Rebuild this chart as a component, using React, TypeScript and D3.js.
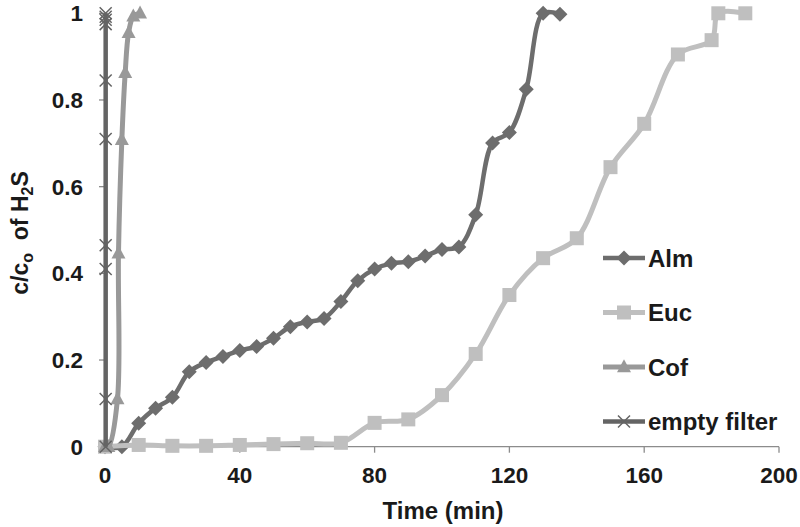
import React from "react";
import * as d3 from "d3";

type Pt = [number, number];

const almData: Pt[] = [
  [0, 0], [5, 0], [10, 0.054], [15, 0.089], [20, 0.114], [25, 0.173], [30, 0.194],
  [35, 0.208], [40, 0.222], [45, 0.231], [50, 0.25], [55, 0.277], [60, 0.288],
  [65, 0.296], [70, 0.335], [75, 0.383], [80, 0.41], [85, 0.423], [90, 0.427],
  [95, 0.44], [100, 0.455], [105, 0.461], [110, 0.535], [115, 0.701], [120, 0.725],
  [125, 0.825], [130, 1.0], [135, 0.998],
];
const eucData: Pt[] = [
  [0, 0], [10, 0.004], [20, 0.002], [30, 0.002], [40, 0.004], [50, 0.006], [60, 0.008],
  [70, 0.009], [80, 0.055], [90, 0.063], [100, 0.119], [110, 0.214], [120, 0.35],
  [130, 0.435], [140, 0.481], [150, 0.645], [160, 0.745], [170, 0.905], [180, 0.938],
  [182, 1.0], [190, 1.0],
];
const cofData: Pt[] = [
  [0, 0], [1, 0], [3.7, 0.11], [4, 0.446], [5, 0.708], [6, 0.863], [7, 0.955],
  [8.4, 0.993], [10.4, 1.0],
];
const emptyData: Pt[] = [
  [0.2, 0], [0.2, 0.11], [0.2, 0.41], [0.2, 0.465], [0.2, 0.71], [0.2, 0.845],
  [0.2, 0.975], [0.2, 0.985], [0.2, 0.992], [0.2, 1.0],
];

const xTicks = [0, 40, 80, 120, 160, 200];
const yTicks = [0, 0.2, 0.4, 0.6, 0.8, 1];
const yTickLabels = ["0", "0.2", "0.4", "0.6", "0.8", "1"];
const seriesNames = ["Alm", "Euc", "Cof", "empty filter"];

const W = 800;
const H = 527;
const FONT = "'Liberation Sans', Arial, sans-serif";

const x = d3.scaleLinear().domain([0, 200]).range([105, 779]);
const y = d3.scaleLinear().domain([0, 1]).range([446.7, 13.3]);

const line = d3
  .line<Pt>()
  .x((d) => x(d[0]))
  .y((d) => y(d[1]))
  .curve(d3.curveCatmullRom.alpha(0.5));

type Kind = "diamond" | "square" | "triangle" | "x";

const series: { name: string; data: Pt[]; color: string; kind: Kind; width: number }[] = [
  { name: seriesNames[0], data: almData, color: "#6d6d6d", kind: "diamond", width: 4.5 },
  { name: seriesNames[1], data: eucData, color: "#bfbfbf", kind: "square", width: 5 },
  { name: seriesNames[2], data: cofData, color: "#999999", kind: "triangle", width: 5 },
  { name: seriesNames[3], data: emptyData, color: "#646464", kind: "x", width: 4.5 },
];

function Marker({ kind, cx, cy, color }: { kind: Kind; cx: number; cy: number; color: string }) {
  if (kind === "diamond") {
    const r = 7.5;
    return (
      <path
        d={`M${cx},${cy - r}L${cx + r},${cy}L${cx},${cy + r}L${cx - r},${cy}Z`}
        fill={color}
      />
    );
  }
  if (kind === "square") {
    const s = 14;
    return <rect x={cx - s / 2} y={cy - s / 2} width={s} height={s} fill={color} />;
  }
  if (kind === "triangle") {
    const w = 14;
    const h = 13;
    return (
      <path
        d={`M${cx},${cy - h * 0.6}L${cx + w / 2},${cy + h * 0.4}L${cx - w / 2},${cy + h * 0.4}Z`}
        fill={color}
      />
    );
  }
  const r = 6;
  return (
    <path
      d={`M${cx - r},${cy - r}L${cx + r},${cy + r}M${cx - r},${cy + r}L${cx + r},${cy - r}`}
      stroke={color}
      strokeWidth={1.5}
      fill="none"
    />
  );
}

const legendY = [258, 312.5, 367, 421.5];

export default function App() {
  return (
    <svg
      width={W}
      height={H}
      style={{ position: "absolute", left: 0, top: 0, background: "#fff" }}
      fontFamily={FONT}
    >
      <rect width={W} height={H} fill="#fff" />
      {/* axes */}
      <line x1={x(0)} x2={x(200)} y1={y(0)} y2={y(0)} stroke="#8c8c8c" strokeWidth={1.3} />
      <line x1={x(0)} x2={x(0)} y1={y(0)} y2={y(1)} stroke="#8c8c8c" strokeWidth={1.3} />
      {xTicks.map((t) => (
        <g key={"xt" + t}>
          <line x1={x(t)} x2={x(t)} y1={y(0)} y2={y(0) + 6} stroke="#8c8c8c" strokeWidth={1.3} />
          <text
            x={x(t)}
            y={483}
            textAnchor="middle"
            fontSize={22.5}
            fontWeight="bold"
            fill="#1a1a1a"
          >
            {t}
          </text>
        </g>
      ))}
      {yTicks.map((t, i) => (
        <g key={"yt" + t}>
          <line x1={x(0) - 6} x2={x(0)} y1={y(t)} y2={y(t)} stroke="#8c8c8c" strokeWidth={1.3} />
          <text
            x={83}
            y={y(t) + 8}
            textAnchor="end"
            fontSize={22.5}
            fontWeight="bold"
            fill="#1a1a1a"
          >
            {yTickLabels[i]}
          </text>
        </g>
      ))}
      <text x={443} y={519} textAnchor="middle" fontSize={24} fontWeight="bold" fill="#1a1a1a">
        Time (min)
      </text>
      <text
        transform="translate(28,233) rotate(-90)"
        textAnchor="middle"
        fontSize={23}
        fontWeight="bold"
        fill="#1a1a1a"
      >
        c/c
        <tspan fontSize={16} dy={5}>o</tspan>
        <tspan dy={-5}>{"\u00a0 of H"}</tspan>
        <tspan fontSize={16} dy={5}>2</tspan>
        <tspan dy={-5}>S</tspan>
      </text>

      {/* series */}
      {series.map((s) => (
        <g key={s.name}>
          <path d={line(s.data) || ""} fill="none" stroke={s.color} strokeWidth={s.width} />
          {s.data.map((d, i) => (
            <Marker key={i} kind={s.kind} cx={x(d[0])} cy={y(d[1])} color={s.color} />
          ))}
        </g>
      ))}

      {/* legend */}
      {series.map((s, i) => (
        <g key={"lg" + s.name}>
          <line
            x1={603}
            x2={645}
            y1={legendY[i]}
            y2={legendY[i]}
            stroke={s.color}
            strokeWidth={s.width}
          />
          <Marker kind={s.kind} cx={624} cy={legendY[i]} color={s.color} />
          <text
            x={648}
            y={legendY[i] + 8.5}
            fontSize={24}
            fontWeight="bold"
            fill="#1a1a1a"
          >
            {s.name}
          </text>
        </g>
      ))}
    </svg>
  );
}
